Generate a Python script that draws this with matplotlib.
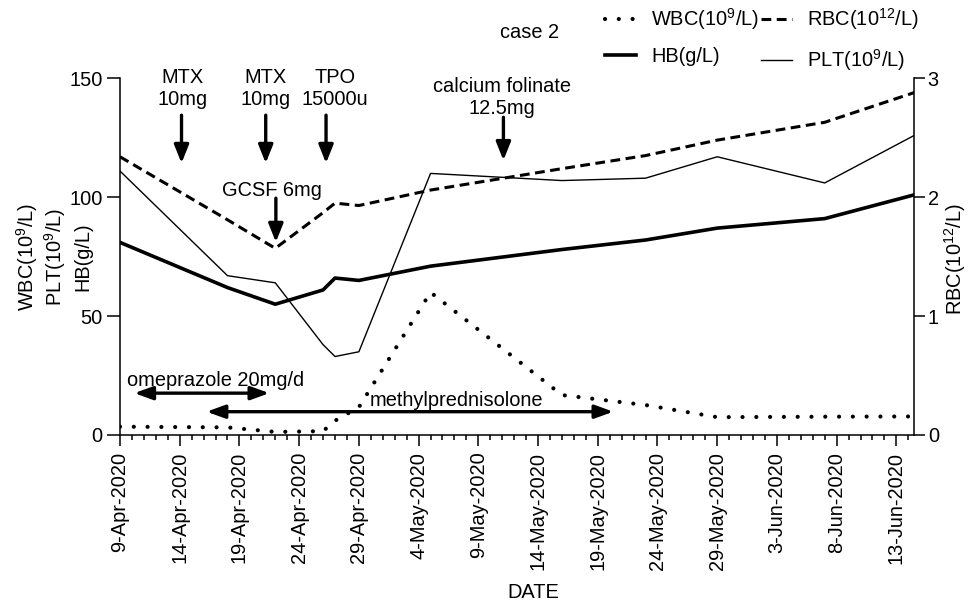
import matplotlib
matplotlib.use('Agg')
import matplotlib.pyplot as plt
import matplotlib.dates as mdates
import matplotlib.ticker as mticker
import pandas as pd
from matplotlib.lines import Line2D

plt.rcParams['font.family'] = ['Liberation Sans', 'DejaVu Sans']
plt.rcParams['mathtext.fontset'] = 'custom'
plt.rcParams['mathtext.rm'] = 'Liberation Sans'
plt.rcParams['mathtext.it'] = 'Liberation Sans:italic'
plt.rcParams['mathtext.bf'] = 'Liberation Sans:bold'

# ---------------- data ----------------
dates = pd.to_datetime(['2020-04-09 00:00', '2020-04-18 00:00', '2020-04-22 00:00', '2020-04-26 00:00',
                        '2020-04-27 00:00', '2020-04-29 00:00', '2020-05-05 00:00', '2020-05-16 00:00',
                        '2020-05-23 00:00', '2020-05-29 00:00', '2020-06-07 00:00', '2020-06-14 12:00'],
                       format='%Y-%m-%d %H:%M')
wbc = [3.5, 3.2, 1.3, 1.6, 6.0, 11.7, 60.0, 16.8, 12.6, 7.5, 7.7, 7.8]
hb = [81, 62, 55, 61, 66, 65, 71, 78, 82, 87, 91, 101]
plt_vals = [111, 67, 64, 38, 33, 35, 110, 107, 108, 117, 106, 126]
rbc = [2.34, 1.81, 1.57, 1.87, 1.95, 1.93, 2.06, 2.24, 2.35, 2.48, 2.63, 2.88]

tick_dates = pd.to_datetime(['2020-04-09', '2020-04-14', '2020-04-19', '2020-04-24',
                             '2020-04-29', '2020-05-04', '2020-05-09', '2020-05-14',
                             '2020-05-19', '2020-05-24', '2020-05-29', '2020-06-03',
                             '2020-06-08', '2020-06-13'])
tick_labels = ['9-Apr-2020', '14-Apr-2020', '19-Apr-2020', '24-Apr-2020',
               '29-Apr-2020', '4-May-2020', '9-May-2020', '14-May-2020',
               '19-May-2020', '24-May-2020', '29-May-2020', '3-Jun-2020',
               '8-Jun-2020', '13-Jun-2020']
left_ticks = [0, 50, 100, 150]
right_ticks = [0, 1, 2, 3]

FS = 14.4

fig = plt.figure(figsize=(9.69, 6.02), dpi=100)
ax = fig.add_axes([120 / 969, 1 - 435 / 602, (914.3 - 120) / 969, (435 - 78.3) / 602])
ax2 = ax.twinx()

l_wbc, = ax.plot(dates, wbc, color='k', lw=3.0, linestyle=(0, (0.01, 3.3)),
                 dash_capstyle='round')
l_hb, = ax.plot(dates, hb, color='k', lw=2.6)
l_plt, = ax.plot(dates, plt_vals, color='k', lw=1.0)
l_rbc, = ax2.plot(dates, rbc, color='k', lw=2.2, linestyle=(0, (3.2, 1.8)))

base = mdates.date2num(pd.Timestamp('2020-04-09'))
ax.set_xlim(base, base + 66.5)
ax.set_ylim(0, 150)
ax2.set_ylim(0, 3)
ax.set_yticks(left_ticks)
ax2.set_yticks(right_ticks)
ax.set_xticks(mdates.date2num(tick_dates))
ax.set_xticklabels(tick_labels, rotation=90, fontsize=FS)
ax.xaxis.set_minor_locator(mticker.MultipleLocator(1))
ax.tick_params(axis='y', labelsize=FS, length=9.5, width=1.1, pad=3)
ax2.tick_params(axis='y', labelsize=FS, length=7.7, width=1.1, pad=2)
ax.tick_params(axis='x', which='major', length=8, width=1.1, pad=4)
ax.tick_params(axis='x', which='minor', length=3.8, width=1.1)
for a in (ax, ax2):
    a.spines['top'].set_visible(False)
    for s in a.spines.values():
        s.set_linewidth(1.1)
ax.spines['right'].set_visible(False)
ax2.spines['left'].set_visible(False)
ax2.spines['bottom'].set_visible(False)

# axis labels
fig.text(533 / 969, 1 - 592 / 602, 'DATE', ha='center', va='center', fontsize=FS)
for xp, s in [(27, r'WBC(10$^9$/L)'), (55, r'PLT(10$^9$/L)'), (83, 'HB(g/L)')]:
    fig.text(xp / 969, 1 - 257 / 602, s, rotation=90, ha='center', va='center', fontsize=FS)
fig.text(955 / 969, 1 - 259 / 602, r'RBC(10$^{12}$/L)', rotation=90, ha='center',
         va='center', fontsize=FS)
fig.text(530 / 969, 1 - 32 / 602, 'case 2', ha='center', va='center', fontsize=FS)

# annotations
vstyle = dict(arrowstyle='-|>,head_length=0.55,head_width=0.22', lw=2.4, color='k',
              mutation_scale=20, shrinkA=0, shrinkB=0)
hstyle = dict(arrowstyle='<|-|>,head_length=0.55,head_width=0.2', lw=2.4, color='k',
              mutation_scale=20, shrinkA=0, shrinkB=0)


def varrow(day, y0, y1):
    ax.annotate('', xy=(base + day, y1), xytext=(base + day, y0), arrowprops=vstyle,
                annotation_clip=False)


def txt(day, y, s, ha='center'):
    ax.text(base + day, y, s, ha=ha, va='center', fontsize=FS, clip_on=False)


txt(5.2, 145.8, 'MTX\n10mg')
varrow(5.15, 134.5, 114.3)
txt(12.2, 145.8, 'MTX\n10mg')
varrow(12.2, 134.5, 114.3)
txt(18.0, 145.8, 'TPO\n15000u')
varrow(17.25, 134.5, 114.3)
txt(12.7, 102.9, 'GCSF 6mg')
varrow(13.05, 99.6, 81.1)
txt(32.0, 142.0, 'calcium folinate\n12.5mg')
varrow(32.1, 133.6, 115.5)

ax.annotate('', xy=(base + 1.2, 17.6), xytext=(base + 12.5, 17.6), arrowprops=hstyle)
txt(0.6, 23.1, 'omeprazole 20mg/d', ha='left')
ax.annotate('', xy=(base + 7.25, 9.8), xytext=(base + 41.3, 9.8), arrowprops=hstyle)
txt(28.2, 14.7, 'methylprednisolone')

handles = [l_wbc, l_hb, l_rbc, l_plt]
labels = [r'WBC(10$^9$/L)', 'HB(g/L)', r'RBC(10$^{12}$/L)', r'PLT(10$^9$/L)']
fig.legend(handles, labels, ncol=2, loc='upper left', bbox_to_anchor=(605 / 969, 1 - 6 / 602),
           frameon=False, fontsize=FS, handlelength=1.55, handletextpad=0.75,
           columnspacing=0.1, labelspacing=0.75, borderpad=0, borderaxespad=0)

fig.savefig('out.png', dpi=100)
